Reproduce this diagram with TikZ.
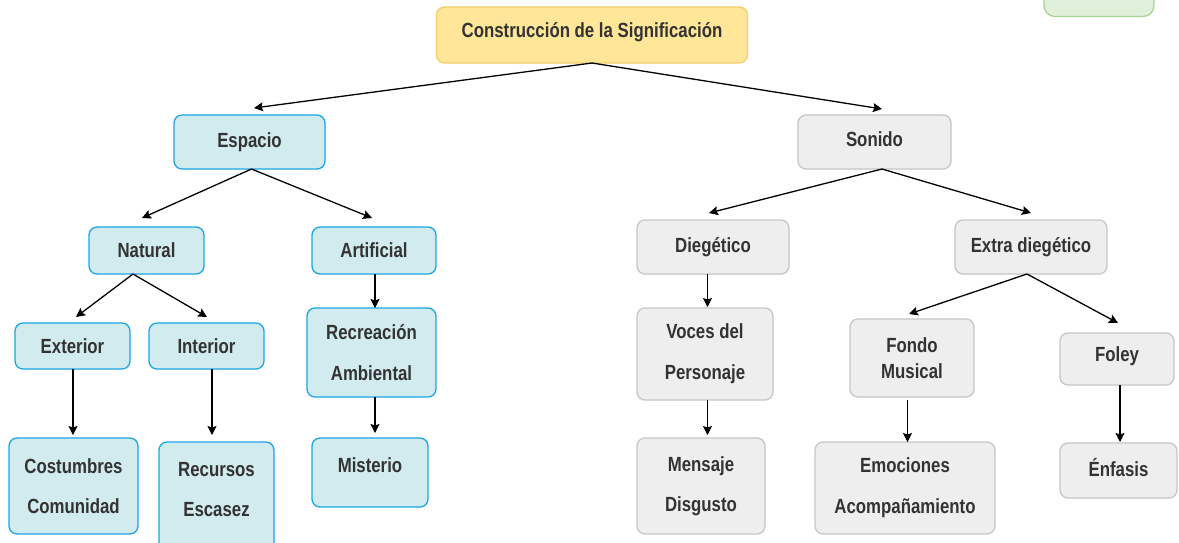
\documentclass[tikz,border=0pt]{standalone}
\usepackage{fontspec}
\setmainfont{Liberation Sans}[FakeStretch=0.82]
\usetikzlibrary{arrows.meta,calc}
\definecolor{rootfill}{HTML}{FFE699}
\definecolor{rootline}{HTML}{F2CF6A}
\definecolor{bluefill}{HTML}{D2EBEF}
\definecolor{blueline}{HTML}{1BA6E3}
\definecolor{grayfill}{HTML}{EEEEEE}
\definecolor{grayline}{HTML}{C6C6C6}
\definecolor{greenfill}{HTML}{E1F0DA}
\definecolor{greenline}{HTML}{A7D490}
\definecolor{txt}{HTML}{333333}
\tikzset{
  box/.style={rounded corners=8pt, line width=1.3pt, inner sep=0pt, outer sep=0pt,
    align=center, text=txt, font=\fontsize{20.5pt}{24pt}\selectfont\bfseries},
  rootbox/.style={box, fill=rootfill, draw=rootline},
  bluebox/.style={box, fill=bluefill, draw=blueline},
  graybox/.style={box, fill=grayfill, draw=grayline},
  greenbox/.style={box, rounded corners=11pt, fill=greenfill, draw=greenline},
  conn/.style={line width=1.3pt, draw=black, -{Stealth[length=9pt,width=9pt,inset=1.5pt]}},
}
\begin{document}
\begin{tikzpicture}[x=1pt,y=-1pt]
\clip (0,0) rectangle (1179,542);
\fill[white] (0,0) rectangle (1179,542);
% boxes
\node[rootbox, minimum width=311pt, minimum height=56pt, text depth=10pt] (root) at (592,35) {Construcción de la Significación};
\node[greenbox, minimum width=110pt, minimum height=47pt] (green) at (1099,-7) {};
\node[bluebox, minimum width=151pt, minimum height=54pt] (esp) at (249.5,142) {Espacio};
\node[graybox, minimum width=153pt, minimum height=54pt, text depth=6pt] (son) at (874.5,142) {Sonido};
\node[bluebox, minimum width=115pt, minimum height=47pt] (nat) at (146.5,250.5) {Natural};
\node[bluebox, minimum width=124pt, minimum height=47pt] (art) at (374,250.5) {Artificial};
\node[bluebox, minimum width=115pt, minimum height=46pt] (ext) at (72.5,346) {Exterior};
\node[bluebox, minimum width=115pt, minimum height=46pt] (int) at (206.5,346) {Interior};
\node[bluebox, minimum width=129pt, minimum height=89pt] (rec) at (371.5,352.5) {Recreación\\[17pt]Ambiental};
\node[bluebox, minimum width=129pt, minimum height=96pt] (cos) at (73.5,486) {Costumbres\\[16pt]Comunidad};
\node[bluebox, minimum width=115pt, minimum height=118pt, text depth=24pt] (recu) at (216.5,501) {Recursos\\[16pt]Escasez};
\node[bluebox, minimum width=116pt, minimum height=69pt, text depth=15pt] (mis) at (370,472.5) {Misterio};
\node[graybox, minimum width=152pt, minimum height=54pt] (die) at (713,247) {Diegético};
\node[graybox, minimum width=152pt, minimum height=54pt] (xdi) at (1031,247) {Extra diegético};
\node[graybox, minimum width=136pt, minimum height=92pt] (voc) at (705,354) {Voces del\\[17pt]Personaje};
\node[graybox, minimum width=124pt, minimum height=78pt] (fon) at (912,358) {Fondo\\[2pt]Musical};
\node[graybox, minimum width=114pt, minimum height=52pt, text depth=10pt] (fol) at (1117,359) {Foley};
\node[graybox, minimum width=128pt, minimum height=96pt] (men) at (701,486) {Mensaje\\[16pt]Disgusto};
\node[graybox, minimum width=180pt, minimum height=92pt] (emo) at (905,488) {Emociones\\[17pt]Acompañamiento};
\node[graybox, minimum width=117pt, minimum height=55pt, text depth=7pt] (enf) at (1118.5,470.5) {Énfasis};
% connectors
\draw[conn] (root.south) -- ($(esp.north)+(4.5,-7)$);
\draw[conn] (root.south) -- ($(son.north)+(7.5,-6)$);
\draw[conn] ($(esp.south)+(2,0)$) -- ($(nat.north)+(-4.5,-9)$);
\draw[conn] ($(esp.south)+(2,0)$) -- ($(art.north)+(-2,-9)$);
\draw[conn] ($(nat.south)+(-13.5,0)$) -- ($(ext.north)+(3.5,-6)$);
\draw[conn] ($(nat.south)+(-13.5,0)$) -- ($(int.north)+(0.5,-6)$);
\draw[conn] ($(art.south)+(1,0)$) -- ($(art.south |- rec.north)+(1,0)$);
\draw[conn] ($(rec.south)+(3.5,0)$) -- ($(rec.south |- mis.north)+(3.5,-5)$);
\draw[conn] ($(ext.south)+(0.5,0)$) -- ($(ext.south |- cos.north)+(0.5,-3)$);
\draw[conn] ($(int.south)+(5.5,0)$) -- ($(int.south |- recu.north)+(5.5,-7)$);
\draw[conn] ($(son.south)+(7.5,0)$) -- ($(die.north)+(-4,-7)$);
\draw[conn] ($(son.south)+(7.5,0)$) -- ($(xdi.north)+(0,-7)$);
\draw[conn] ($(die.south)+(-5.5,0)$) -- ($(die.south |- voc.north)+(-5.5,-1)$);
\draw[conn] ($(voc.south)+(2.5,0)$) -- ($(voc.south |- men.north)+(2.5,-3)$);
\draw[conn] ($(xdi.south)+(-4,0)$) -- ($(fon.north)+(-3,-5)$);
\draw[conn] ($(xdi.south)+(-4,0)$) -- ($(fol.north)+(1,-10)$);
\draw[conn] ($(fon.south)+(-4.5,3)$) -- ($(fon.south |- emo.north)+(-4.5,0)$);
\draw[conn] ($(fol.south)+(3,0)$) -- ($(fol.south |- enf.north)+(3,-1)$);
\end{tikzpicture}
\end{document}
